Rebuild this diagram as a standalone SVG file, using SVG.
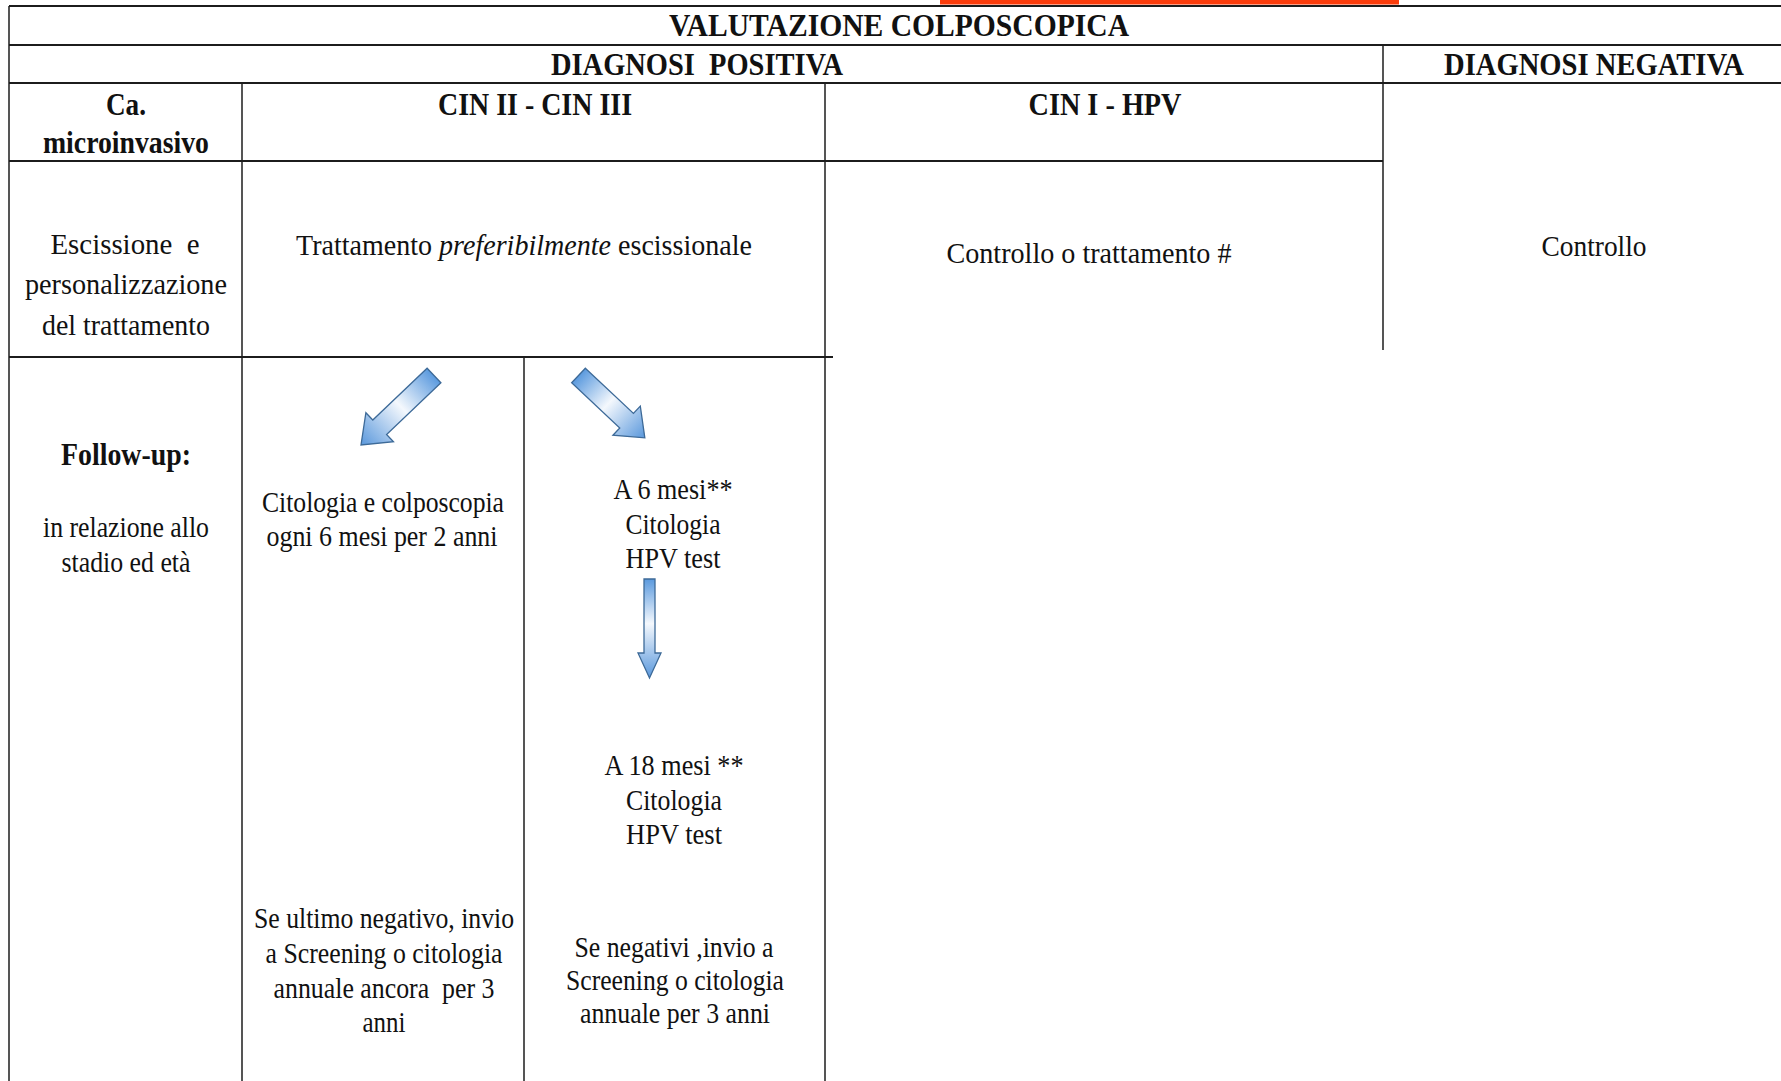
<svg xmlns="http://www.w3.org/2000/svg" width="1781" height="1081" viewBox="0 0 1781 1081">
  <style>
    .t { font-family: "Liberation Serif", "Times New Roman", serif; fill: #111111; text-anchor: middle; font-size: 30px; }
    .b { font-weight: bold; font-size: 32px; }
    .b2 { font-weight: bold; font-size: 31px; }
    .h { fill: none; stroke: #1c1c1c; stroke-width: 2.2; }
    .v { fill: none; stroke: #1c1c1c; stroke-width: 1.5; }
    .arr { fill: url(#ag); stroke: #3d6a98; stroke-width: 1.3; stroke-linejoin: miter; }
  </style>
  <defs>
    <linearGradient id="ag" x1="0" y1="0" x2="1" y2="0">
      <stop offset="0" stop-color="#5b9ade"/>
      <stop offset="0.45" stop-color="#f4f8fd"/>
      <stop offset="1" stop-color="#5a98dc"/>
    </linearGradient>
  </defs>
  <rect width="1781" height="1081" fill="#ffffff"/>
  <rect x="940" y="0" width="459" height="4.5" fill="#fb3c0b"/>

  <g id="grid">
    <path class="h" d="M9 6 H1781" stroke-width="2.5"/>
    <path class="h" d="M9 45 H1781"/>
    <path class="h" d="M9 83 H1781"/>
    <path class="h" d="M9 161 H1383"/>
    <path class="h" d="M9 357 H833"/>
    <path class="v" d="M9 6 V1081"/>
    <path class="v" d="M242 83 V1081"/>
    <path class="v" d="M825 83 V1081"/>
    <path class="v" d="M524 357 V1081"/>
    <path class="v" d="M1383 45 V350"/>
  </g>

  <g id="valutazione">
    <text class="t b" x="899" y="36" textLength="460" lengthAdjust="spacingAndGlyphs">VALUTAZIONE COLPOSCOPICA</text>
  </g>
  <g id="diagnosi-positiva">
    <text class="t b" x="697" y="75" textLength="292" lengthAdjust="spacingAndGlyphs" xml:space="preserve">DIAGNOSI  POSITIVA</text>
  </g>
  <g id="diagnosi-negativa">
    <text class="t b" x="1594" y="75" textLength="300" lengthAdjust="spacingAndGlyphs">DIAGNOSI NEGATIVA</text>
  </g>
  <g id="ca-microinvasivo">
    <text class="t b2" x="126" y="115" textLength="40" lengthAdjust="spacingAndGlyphs">Ca.</text>
    <text class="t b2" x="126" y="153" textLength="166" lengthAdjust="spacingAndGlyphs">microinvasivo</text>
  </g>
  <g id="cin2-cin3">
    <text class="t b" x="535" y="115" textLength="194" lengthAdjust="spacingAndGlyphs">CIN II - CIN III</text>
  </g>
  <g id="cin1-hpv">
    <text class="t b" x="1105" y="115" textLength="153" lengthAdjust="spacingAndGlyphs">CIN I - HPV</text>
  </g>

  <g id="escissione">
    <text class="t" x="125" y="254" textLength="149" lengthAdjust="spacingAndGlyphs" xml:space="preserve">Escissione  e</text>
    <text class="t" x="126" y="294" textLength="202" lengthAdjust="spacingAndGlyphs">personalizzazione</text>
    <text class="t" x="126" y="335" textLength="168" lengthAdjust="spacingAndGlyphs">del trattamento</text>
  </g>
  <g id="trattamento">
    <text class="t" x="524" y="255" textLength="456" lengthAdjust="spacingAndGlyphs">Trattamento <tspan font-style="italic">preferibilmente</tspan> escissionale</text>
  </g>
  <g id="controllo-trattamento">
    <text class="t" x="1089" y="263" textLength="285" lengthAdjust="spacingAndGlyphs">Controllo o trattamento #</text>
  </g>
  <g id="controllo">
    <text class="t" x="1594" y="256" textLength="105" lengthAdjust="spacingAndGlyphs">Controllo</text>
  </g>

  <g id="follow-up">
    <text class="t b2" x="126" y="465" textLength="130" lengthAdjust="spacingAndGlyphs">Follow-up:</text>
    <text class="t" x="126" y="537" textLength="166" lengthAdjust="spacingAndGlyphs">in relazione allo</text>
    <text class="t" x="126" y="572" textLength="129" lengthAdjust="spacingAndGlyphs">stadio ed età</text>
  </g>
  <g id="citologia-colposcopia">
    <text class="t" x="383" y="512" textLength="242" lengthAdjust="spacingAndGlyphs">Citologia e colposcopia</text>
    <text class="t" x="382" y="546" textLength="231" lengthAdjust="spacingAndGlyphs">ogni 6 mesi per 2 anni</text>
  </g>
  <g id="a6mesi">
    <text class="t" x="673" y="499" textLength="119" lengthAdjust="spacingAndGlyphs">A 6 mesi**</text>
    <text class="t" x="673" y="534" textLength="95" lengthAdjust="spacingAndGlyphs">Citologia</text>
    <text class="t" x="673" y="568" textLength="95" lengthAdjust="spacingAndGlyphs">HPV test</text>
  </g>
  <g id="a18mesi">
    <text class="t" x="674" y="775" textLength="139" lengthAdjust="spacingAndGlyphs">A 18 mesi **</text>
    <text class="t" x="674" y="810" textLength="96" lengthAdjust="spacingAndGlyphs">Citologia</text>
    <text class="t" x="674" y="844" textLength="96" lengthAdjust="spacingAndGlyphs">HPV test</text>
  </g>
  <g id="se-ultimo-negativo">
    <text class="t" x="384" y="928" textLength="260" lengthAdjust="spacingAndGlyphs">Se ultimo negativo, invio</text>
    <text class="t" x="384" y="963" textLength="237" lengthAdjust="spacingAndGlyphs">a Screening o citologia</text>
    <text class="t" x="384" y="998" textLength="221" lengthAdjust="spacingAndGlyphs" xml:space="preserve">annuale ancora  per 3</text>
    <text class="t" x="384" y="1032" textLength="43" lengthAdjust="spacingAndGlyphs">anni</text>
  </g>
  <g id="se-negativi">
    <text class="t" x="674" y="957" textLength="199" lengthAdjust="spacingAndGlyphs">Se negativi ,invio a</text>
    <text class="t" x="675" y="990" textLength="218" lengthAdjust="spacingAndGlyphs">Screening o citologia</text>
    <text class="t" x="675" y="1023" textLength="190" lengthAdjust="spacingAndGlyphs">annuale per 3 anni</text>
  </g>

  <g id="connectors">
    <path class="arr" transform="translate(434 375.5) rotate(136.4)" d="M0 -10 H75 V-20 L100.8 0 L75 20 V10 H0 Z"/>
    <path class="arr" transform="translate(578.5 375.5) rotate(43.2)" d="M0 -10 H66 V-20 L91 0 L66 20 V10 H0 Z"/>
    <path class="arr" transform="translate(649.5 579) rotate(90)" d="M0 -5.5 H74 V-11.5 L99 0 L74 11.5 V5.5 H0 Z"/>
  </g>
</svg>
